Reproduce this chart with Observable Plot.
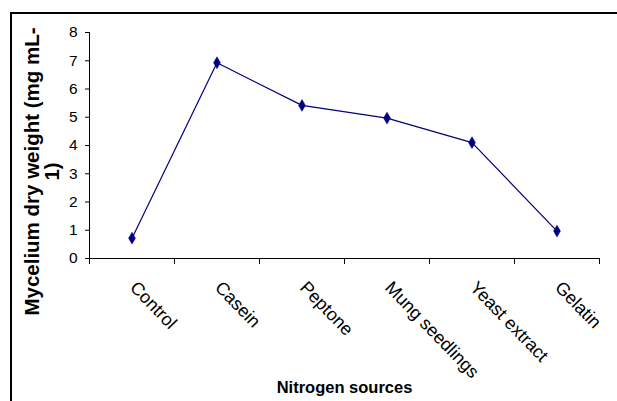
<!DOCTYPE html>
<html><head><meta charset="utf-8">
<script src="https://cdn.jsdelivr.net/npm/d3@7"></script>
<script src="https://cdn.jsdelivr.net/npm/@observablehq/plot@0.6"></script>
<style>
body{margin:0;background:#fff;}
#wrap{position:relative;width:617px;height:401px;overflow:hidden;}
#border{position:absolute;left:10px;top:12px;right:-5px;bottom:-5px;border-top:2px solid #000;border-left:2px solid #000;}
#chart{position:absolute;left:0;top:0;}
</style></head>
<body><div id="wrap"><div id="border"></div><div id="chart"></div></div>
<script>
const categories = ["Control","Casein","Peptone","Mung seedlings","Yeast extract","Gelatin"];
const values = [0.72, 6.93, 5.42, 4.97, 4.10, 0.97];
const yTicks = [0,1,2,3,4,5,6,7,8];
const xTitle = "Nitrogen sources";
const yTitle = "Mycelium dry weight (mg mL-\n1)";

const data = categories.map((c,i)=>({c, i, v: values[i]}));
const font = "Liberation Sans, Arial, sans-serif";

const chart = Plot.plot({
  width: 617, height: 401,
  marginLeft: 89, marginRight: 18, marginTop: 32, marginBottom: 143,
  style: {fontFamily: font, fontSize: "15px", color: "#000", background: "transparent"},
  x: {domain: [0, categories.length], axis: null},
  y: {domain: [0, 8], axis: null},
  marks: [
    Plot.axisY({ticks: yTicks, tickSize: 4, tickPadding: 8, fontSize: 15.5, label: null, stroke: "#000"}),
    Plot.axisX({ticks: d3.range(categories.length + 1), tickSize: 6, tickFormat: () => "", label: null}),
    Plot.frame({anchor: "left", stroke: "#000"}),
    Plot.frame({anchor: "bottom", stroke: "#000"}),
    Plot.text(categories, {x: (d,i)=>i+0.5, frameAnchor: "bottom", text: d=>d, rotate: 46, textAnchor: "start", dy: 30, dx: -3, fontSize: 18, fill: "#000"}),
    Plot.line(data, {x: d=>d.i+0.5, y: "v", stroke: "#000080", strokeWidth: 1.2}),
    Plot.dot(data, {x: d=>d.i+0.5, y: "v", symbol: "diamond", r: 3.6, fill: "#000080", stroke: "#000080", strokeWidth: 0.5}),
    Plot.text([xTitle], {frameAnchor: "bottom", text: d=>d, dy: 134, fontWeight: "bold", fontSize: 16.5, fill: "#000"}),
    Plot.text([yTitle], {frameAnchor: "left", text: d=>d, rotate: -90, textAnchor: "middle", lineAnchor: "middle", dx: -47, dy: 26, fontWeight: "bold", fontSize: 20.5, lineHeight: 1.0, fill: "#000"})
  ]
});
document.getElementById("chart").appendChild(chart);
</script></body></html>
